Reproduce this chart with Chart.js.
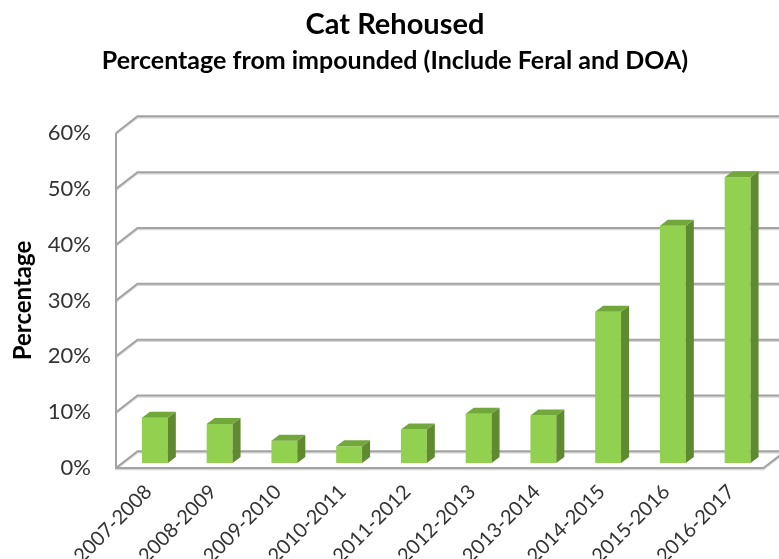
<!DOCTYPE html>
<html>
<head>
<meta charset="utf-8">
<script src="https://cdn.jsdelivr.net/npm/chart.js@4.4.0/dist/chart.umd.min.js"></script>
<style>
  html, body { margin: 0; padding: 0; background: #ffffff; }
  #wrap { width: 779px; height: 559px; }
</style>
</head>
<body>
<div id="wrap"><canvas id="chart" width="779" height="559"></canvas></div>
<script>
// Financial years
const categories = [
  '2007-2008', '2008-2009', '2009-2010', '2010-2011', '2011-2012',
  '2012-2013', '2013-2014', '2014-2015', '2015-2016', '2016-2017'
];
// Cats rehoused, % of impounded (feral and DOA included)
const rehousedPct = [8.1, 7.0, 4.0, 3.0, 6.0, 8.8, 8.5, 27.1, 42.5, 51.2];
// Value axis ticks
const yTicks = [0, 10, 20, 30, 40, 50, 60];

const FONT = 'Lato, "Open Sans", sans-serif';

// Oblique projection used for the box walls and the bar blocks
const WALL_DEPTH = { dx: 21.5, dy: -16.7 };
const BAR_OFFSET = { dx: 6.5, dy: -5 };
const BAR_DEPTH = { dx: 8, dy: -6 };

const COLORS = {
  front: '#92D050',
  side: '#608A30',
  top: '#72A73C',
  grid: '#A3A3A3',
  gridShade: '#D6D6D6'
};

function stroke(ctx, pts, color, width) {
  ctx.beginPath();
  ctx.moveTo(pts[0][0], pts[0][1]);
  for (let i = 1; i < pts.length; i++) ctx.lineTo(pts[i][0], pts[i][1]);
  ctx.strokeStyle = color;
  ctx.lineWidth = width;
  ctx.stroke();
}

function fillPoly(ctx, pts, color) {
  ctx.beginPath();
  ctx.moveTo(pts[0][0], pts[0][1]);
  for (let i = 1; i < pts.length; i++) ctx.lineTo(pts[i][0], pts[i][1]);
  ctx.closePath();
  ctx.fillStyle = color;
  ctx.fill();
}

// Side wall, back wall gridlines and floor of the 3-D box
const boxPlugin = {
  id: 'box3d',
  beforeDatasetsDraw(chart) {
    const { ctx, chartArea: a, scales: { y } } = chart;
    const { dx, dy } = WALL_DEPTH;
    ctx.save();
    const farRight = chart.width + 10;
    const lines = [];
    yTicks.forEach(v => {
      const py = y.getPixelForValue(v);
      lines.push([[a.left, py], [a.left + dx, py + dy], [farRight, py + dy]]);
    });
    const top = y.getPixelForValue(yTicks[yTicks.length - 1]);
    lines.push([[a.left, top], [a.left, a.bottom], [a.right, a.bottom], [a.right + dx, a.bottom + dy]]);
    lines.forEach(pts => stroke(ctx, pts.map(p => [p[0], p[1] + 1.5]), COLORS.gridShade, 1.5));
    lines.forEach(pts => stroke(ctx, pts, COLORS.grid, 2));
    ctx.restore();

    // bars sit partway into the box depth
    ctx.save();
    ctx.translate(BAR_OFFSET.dx, BAR_OFFSET.dy);
  },
  afterDatasetsDraw(chart) {
    const { ctx } = chart;
    ctx.restore();
    const meta = chart.getDatasetMeta(0);
    const { dx, dy } = BAR_DEPTH;
    ctx.save();
    meta.data.forEach(bar => {
      const p = bar.getProps(['x', 'y', 'base', 'width'], true);
      const l = p.x - p.width / 2 + BAR_OFFSET.dx;
      const r = p.x + p.width / 2 + BAR_OFFSET.dx;
      const t = p.y + BAR_OFFSET.dy;
      const b = p.base + BAR_OFFSET.dy;
      fillPoly(ctx, [[r, t], [r + dx, t + dy], [r + dx, b + dy], [r, b]], COLORS.side);
      fillPoly(ctx, [[l, t], [l + dx, t + dy], [r + dx, t + dy], [r, t]], COLORS.top);
    });
    ctx.restore();
  }
};

new Chart(document.getElementById('chart'), {
  type: 'bar',
  data: {
    labels: categories,
    datasets: [{
      label: 'Cat Rehoused',
      data: rehousedPct,
      backgroundColor: COLORS.front,
      borderWidth: 0,
      categoryPercentage: 1,
      barPercentage: 0.4,
      clip: false
    }]
  },
  options: {
    responsive: false,
    animation: false,
    devicePixelRatio: 1,
    layout: { padding: { left: 11, right: 0, top: 0, bottom: 0 } },
    plugins: {
      legend: { display: false },
      tooltip: { enabled: false },
      title: {
        display: true,
        text: 'Cat Rehoused',
        color: '#000000',
        font: { family: FONT, size: 29, weight: 'bold' },
        padding: { top: 7.6, bottom: 0 }
      },
      subtitle: {
        display: true,
        text: 'Percentage from impounded (Include Feral and DOA)',
        color: '#000000',
        font: { family: FONT, size: 25, weight: 'bold' },
        padding: { top: 3.1, bottom: 57.5 }
      }
    },
    scales: {
      x: {
        grid: { display: false, drawTicks: false },
        border: { display: false },
        ticks: {
          color: '#333333',
          font: { family: FONT, size: 20 },
          maxRotation: 45,
          minRotation: 45,
          autoSkip: false,
          padding: 12
        },
        afterFit(scale) { scale.height = 91; }
      },
      y: {
        min: 0,
        max: 60,
        grid: { display: false, drawTicks: false },
        border: { display: false },
        afterBuildTicks(scale) { scale.ticks = yTicks.map(v => ({ value: v })); },
        ticks: {
          color: '#333333',
          font: { family: FONT, size: 22 },
          padding: 25,
          callback: v => v + '%'
        },
        title: {
          display: true,
          text: 'Percentage',
          color: '#000000',
          font: { family: FONT, size: 24, weight: 'bold' },
          padding: { top: -2, bottom: 0 }
        },
        afterFit(scale) { scale.width = 105; }
      },
      // empty margin on the right, where the box runs off the edge
      edge: {
        type: 'linear',
        position: 'right',
        grid: { display: false, drawTicks: false },
        border: { display: false },
        ticks: { display: false },
        afterFit(scale) { scale.width = 15.5; }
      }
    }
  },
  plugins: [boxPlugin]
});
</script>
</body>
</html>
